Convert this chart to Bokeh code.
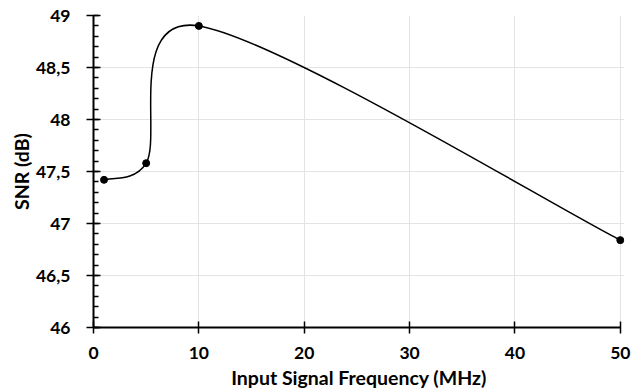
import math
from bokeh.plotting import figure
from bokeh.models import Range1d, FixedTicker, CustomJSTickFormatter
from bokeh.embed import file_html
from bokeh.resources import INLINE

# Data
freq_mhz = [1, 5, 10, 50]
snr_db = [47.42, 47.58, 48.9, 46.84]
x_ticks = [0, 10, 20, 30, 40, 50]
y_ticks = [46, 46.5, 47, 47.5, 48, 48.5, 49]
y_minor = [round(46 + 0.1 * i, 1) for i in range(31)]

# Excel-style smoothed line drawn as cubic Bezier segments.
# Control arms follow Catmull-Rom tangents (1/6 of neighbour chord),
# capped at half the segment length (measured in screen proportions).
SX, SY = 10.53, 104.0  # approx. screen px per data unit, only for arm lengths


def dist(ax, ay, bx, by):
    return math.hypot((bx - ax) * SX, (by - ay) * SY)


n = len(freq_mhz)
x0s, y0s, x1s, y1s, cx0, cy0, cx1, cy1 = [], [], [], [], [], [], [], []
for i in range(n - 1):
    pm = i - 1 if i > 0 else 0
    pp = i + 2 if i + 2 < n else n - 1
    xa, ya_ = freq_mhz[i], snr_db[i]
    xb, yb = freq_mhz[i + 1], snr_db[i + 1]
    seg = dist(xa, ya_, xb, yb)
    tx, ty = (xb - freq_mhz[pm]) / 6.0, (yb - snr_db[pm]) / 6.0
    L = dist(0, 0, tx, ty)
    k = min(1.0, 0.5 * seg / L) if L > 0 else 1.0
    c0x, c0y = xa + tx * k, ya_ + ty * k
    tx, ty = (freq_mhz[pp] - xa) / 6.0, (snr_db[pp] - ya_) / 6.0
    L = dist(0, 0, tx, ty)
    k = min(1.0, 0.5 * seg / L) if L > 0 else 1.0
    c1x, c1y = xb - tx * k, yb - ty * k
    x0s.append(xa); y0s.append(ya_); x1s.append(xb); y1s.append(yb)
    cx0.append(c0x); cy0.append(c0y); cx1.append(c1x); cy1.append(c1y)

FONT = "Lato"

p = figure(width=641, height=392, output_backend="svg", toolbar_location=None,
           x_range=Range1d(0, 50.4), y_range=Range1d(46, 49),
           min_border_left=93, min_border_right=17, min_border_top=15, min_border_bottom=65)
p.outline_line_color = None
p.background_fill_color = "white"
p.border_fill_color = "white"

p.bezier(x0=x0s, y0=y0s, x1=x1s, y1=y1s, cx0=cx0, cy0=cy0, cx1=cx1, cy1=cy1,
         line_color="black", line_width=1.5)
p.scatter(freq_mhz, snr_db, size=7, color="black")

# Grid
p.xgrid.ticker = FixedTicker(ticks=x_ticks)
p.ygrid.ticker = FixedTicker(ticks=y_ticks)
p.grid.grid_line_color = "#e3e3e3"
p.grid.grid_line_width = 1

# X axis
xa = p.xaxis[0]
xa.bounds = (0, 50)
xa.ticker = FixedTicker(ticks=x_ticks)
xa.axis_label = "Input Signal Frequency (MHz)"
xa.axis_line_color = "black"
xa.axis_line_width = 2
xa.major_tick_line_color = "black"
xa.major_tick_line_width = 1.5
xa.major_tick_in = 6
xa.major_tick_out = 6
xa.minor_tick_line_color = None
xa.major_label_text_font = FONT
xa.major_label_text_font_style = "bold"
xa.major_label_text_font_size = "17.5px"
xa.major_label_text_color = "black"
xa.major_label_standoff = 13
xa.axis_label_text_font = FONT
xa.axis_label_text_font_style = "bold"
xa.axis_label_text_font_size = "19.5px"
xa.axis_label_text_color = "black"
xa.axis_label_standoff = 4

# Y axis
ya = p.yaxis[0]
ya.ticker = FixedTicker(ticks=y_ticks, minor_ticks=y_minor)
ya.formatter = CustomJSTickFormatter(code="return tick.toString().replace('.', ',');")
ya.axis_label = "SNR (dB)"
ya.axis_line_color = "black"
ya.axis_line_width = 2
ya.major_tick_line_color = "black"
ya.major_tick_line_width = 1.5
ya.major_tick_in = 7
ya.major_tick_out = 7
ya.minor_tick_line_color = "black"
ya.minor_tick_line_width = 1.5
ya.minor_tick_in = 5
ya.minor_tick_out = 0
ya.major_label_text_font = FONT
ya.major_label_text_font_style = "bold"
ya.major_label_text_font_size = "17.5px"
ya.major_label_text_color = "black"
ya.major_label_standoff = 16
ya.axis_label_text_font = FONT
ya.axis_label_text_font_style = "bold"
ya.axis_label_text_font_size = "19.5px"
ya.axis_label_text_color = "black"
ya.axis_label_standoff = 0

open("out.html", "w").write(file_html(p, INLINE))
